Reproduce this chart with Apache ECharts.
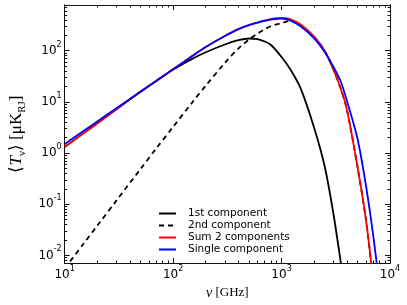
<!DOCTYPE html>
<html><head><meta charset="utf-8">
<script src="https://cdn.jsdelivr.net/npm/echarts@6/dist/echarts.min.js"></script>
<style>html,body{margin:0;padding:0;background:#fff}#c{width:407px;height:305px}</style>
</head><body><div id="c"></div>
<script>
// frequency grid in GHz
const freqGHz = [10,15,20,30,50,70,100,150,200,300,400,500,600,700,800,1000,1200,1500,2000,2500,3000,3500,4000,5000,6000,7000,8000];
// <T_nu> [uK_RJ]
const comp1  = [1.31,2.45,3.82,7.17,15.7,25.5,42.7,69.2,93.3,132,160,173,168,151,129,75.2,43.7,18.3,3.08,0.545,0.0673,0.0078,0.00108,null,null,null,null];
const comp2  = [0.00555,0.0171,0.038,0.1175,0.485,1.236,3.24,9.73,20.7,57.5,110,164,216,262,302,346,380,306,185,99.5,43.3,18.6,7.14,0.562,0.050,0.00316,0.0002];
const sum2   = [1.31,2.45,3.82,7.17,15.7,25.6,43.2,78.3,117.5,193,264,316,354,386,418,439,414,324,188,100,43.3,18.6,7.14,0.562,0.050,0.00316,0.0002];
const single = [1.50,2.71,4.14,7.50,15.8,25.7,43.2,78.3,117.5,193,264,316,354,384,405,425,391,298,173,94,48.5,25.5,10.6,1.96,0.232,0.0246,0.00252];
const seriesNames = ['1st component','2nd component','Sum 2 components','Single component'];
const xDecades = [1,2,3,4];
const yDecades = [-2,-1,0,1,2];
const xMin = 1, xMax = 4;               // log10(10) .. log10(1e4)
const yMin = Math.log10(0.0071), yMax = Math.log10(780);

function toPairs(vals){
  const out=[];
  for(let i=0;i<freqGHz.length;i++){ if(vals[i]!=null) out.push([Math.log10(freqGHz[i]), Math.log10(vals[i])]); }
  return out;
}
function minors(lo,hi){
  const out=[];
  for(let n=Math.floor(lo)-1;n<=Math.ceil(hi);n++){
    for(let k=2;k<=9;k++){ const v=n+Math.log10(k); if(v>lo && v<hi) out.push(v); }
  }
  return out;
}
const xMinor = minors(xMin,xMax), yMinor = minors(yMin,yMax);

const rich = {
  b:{fontFamily:'DejaVu Sans',fontSize:12,lineHeight:20,verticalAlign:'middle',color:'#000'},
  s:{fontFamily:'DejaVu Sans',fontSize:8,lineHeight:8,verticalAlign:'top',color:'#000'}
};
const fmt = v => '{b|10}{s|' + Math.round(v) + '}';
const axLine = {show:true, onZero:false, lineStyle:{color:'#111', width:1}};

function mkX(pos, ticks, len, labels){
  return {type:'value', position:pos, min:xMin, max:xMax,
    axisLine:axLine, splitLine:{show:false},
    axisTick:{show:true, inside:true, length:len, customValues:ticks, lineStyle:{color:'#111',width:1}},
    axisLabel: labels ? {show:true, customValues:xDecades, formatter:fmt, rich:rich, margin:2} : {show:false}};
}
function mkY(pos, ticks, len, labels){
  return {type:'value', position:pos, min:yMin, max:yMax,
    axisLine:axLine, splitLine:{show:false},
    axisTick:{show:true, inside:true, length:len, customValues:ticks, lineStyle:{color:'#111',width:1}},
    axisLabel: labels ? {show:true, customValues:yDecades, formatter:fmt, rich:rich, margin:3} : {show:false}};
}

const xAxes = [mkX('bottom',xDecades,5,true), mkX('bottom',xMinor,2.5,false), mkX('top',xDecades,5,false), mkX('top',xMinor,2.5,false)];
const yAxes = [mkY('left',yDecades,5,true), mkY('left',yMinor,2.5,false), mkY('right',yDecades,5,false), mkY('right',yMinor,2.5,false)];

xAxes[0].name = '{i|ν} {r|[GHz]}';
xAxes[0].nameLocation = 'middle';
xAxes[0].nameGap = 22;
xAxes[0].nameTextStyle = {fontFamily:'Liberation Serif', fontSize:13, color:'#000', rich:{
  i:{fontFamily:'Liberation Serif',fontStyle:'italic',fontSize:14,color:'#000'},
  r:{fontFamily:'Liberation Serif',fontSize:13,color:'#000'}}};

yAxes[0].name = '{r|⟨}{i|T}{sub|ν}{r|⟩ [μK}{sub|RJ}{r|]}';
yAxes[0].nameLocation = 'middle';
yAxes[0].nameRotate = 90;
yAxes[0].nameGap = 34;
yAxes[0].nameTextStyle = {fontFamily:'Liberation Serif', fontSize:17, color:'#000', rich:{
  r:{fontFamily:'Liberation Serif',fontSize:17,lineHeight:22,verticalAlign:'middle',color:'#000'},
  i:{fontFamily:'Liberation Serif',fontStyle:'italic',fontSize:17,lineHeight:22,verticalAlign:'middle',color:'#000'},
  sub:{fontFamily:'Liberation Serif',fontSize:11,lineHeight:11,verticalAlign:'bottom',color:'#000'}}};

const colors = ['#000000','#000000','#ff0000','#0000ff'];
const datas = [comp1, comp2, sum2, single];
const series = datas.map((d,i)=>({
  name: seriesNames[i], type:'line', data: toPairs(d), xAxisIndex:0, yAxisIndex:0,
  symbol:'none', smooth:0.3, clip:true,
  lineStyle:{color:colors[i], width:1.8, type: i===1 ? [5,4] : 'solid'},
  itemStyle:{color:colors[i]}
}));

const chart = echarts.init(document.getElementById('c'), null, {renderer:'canvas'});
chart.setOption({
  animation:false,
  backgroundColor:'#fff',
  grid:{left:58, right:17, top:5, bottom:42},
  xAxis:xAxes, yAxis:yAxes,
  legend:{orient:'vertical', left:158, top:208, padding:0, itemWidth:17, itemHeight:10, itemGap:1,
    data: seriesNames,
    itemStyle:{opacity:0, borderWidth:0},
    textStyle:{fontFamily:'DejaVu Sans', fontSize:10.5, color:'#000', lineHeight:10, padding:[0,0,0,7]}},
  series: series
});
</script></body></html>
